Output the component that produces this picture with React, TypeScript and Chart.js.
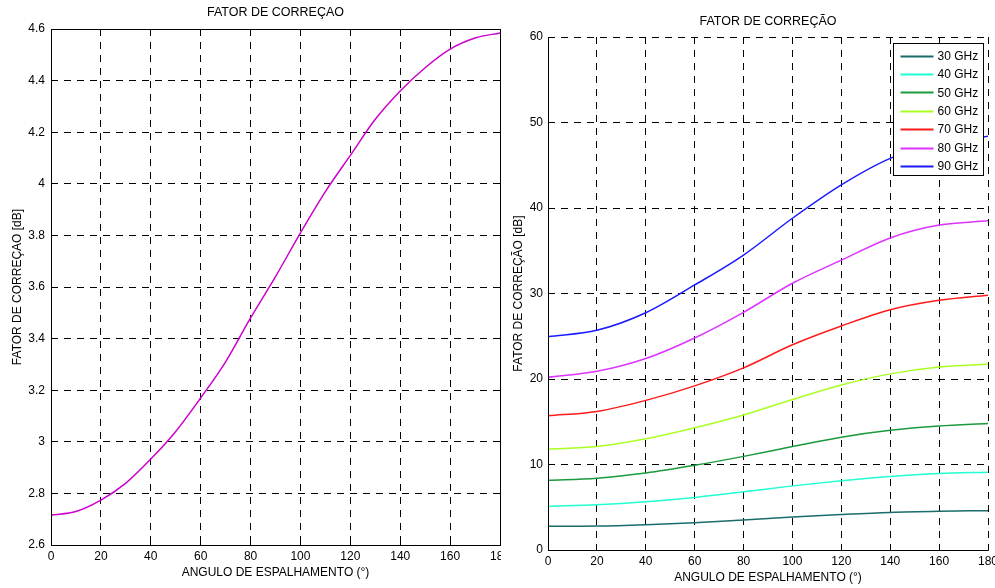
import React, { useEffect, useRef } from 'react';
import { Chart, registerables } from 'chart.js';

Chart.register(...registerables);

const FONT = '"Liberation Sans", Arial, Helvetica, sans-serif';

// ---- Left chart data ----
const leftTitle = 'FATOR DE CORREÇAO';
const leftYLabel = 'FATOR DE CORREÇAO [dB]';
const xLabel = 'ANGULO DE ESPALHAMENTO (°)';
const leftAngles = [0, 10, 20, 30, 40, 50, 60, 70, 80, 90, 100, 110, 120, 130, 140, 150, 160, 170, 180];
const leftFactor = [2.716, 2.73, 2.774, 2.84, 2.933, 3.04, 3.17, 3.31, 3.48, 3.64, 3.81, 3.97, 4.11, 4.25, 4.36, 4.45, 4.522, 4.565, 4.585];
const leftColor = '#cc00cc';

// ---- Right chart data ----
const rightTitle = 'FATOR DE CORREÇÃO';
const rightYLabel = 'FATOR DE CORREÇÃO [dB]';
const rightAngles = [0, 20, 40, 60, 80, 100, 120, 140, 160, 180];
const ghz30 = [2.77, 2.8, 2.96, 3.2, 3.5, 3.85, 4.15, 4.4, 4.53, 4.6];
const ghz40 = [5.1, 5.3, 5.65, 6.15, 6.8, 7.5, 8.1, 8.6, 8.95, 9.1];
const ghz50 = [8.15, 8.4, 9.0, 9.9, 10.95, 12.1, 13.2, 14.0, 14.5, 14.8];
const ghz60 = [11.8, 12.1, 13.0, 14.3, 15.8, 17.6, 19.3, 20.6, 21.4, 21.75];
const ghz70 = [15.7, 16.2, 17.5, 19.2, 21.3, 24.0, 26.2, 28.1, 29.2, 29.8];
const ghz80 = [20.2, 20.9, 22.4, 24.8, 27.8, 31.2, 33.9, 36.5, 38.0, 38.5];
const ghz90 = [24.95, 25.7, 27.75, 31.0, 34.5, 38.8, 42.7, 45.8, 47.6, 48.4];
const seriesValues = [ghz30, ghz40, ghz50, ghz60, ghz70, ghz80, ghz90];
const seriesLabels = ['30 GHz', '40 GHz', '50 GHz', '60 GHz', '70 GHz', '80 GHz', '90 GHz'];
const seriesColors = ['#1a6b6b', '#22ffd2', '#1a9a3c', '#aaff22', '#ff1a1a', '#dd33ff', '#1a1aff'];

const fmt = (v: number) => String(Math.round(v * 10) / 10);

function align(p: number) {
  return Math.round(p - 0.5) + 0.5;
}

const matlabPlugin = {
  id: 'matlabDecor',
  afterDraw(chart: any, _args: any, opts: any) {
    const { ctx, chartArea: a } = chart;
    const L = align(a.left), R = align(a.right), T = align(a.top), B = align(a.bottom);
    ctx.save();
    // title centred over the plot area
    ctx.fillStyle = '#000';
    ctx.font = '12.5px ' + FONT;
    ctx.textAlign = 'center';
    ctx.textBaseline = 'middle';
    ctx.fillText(opts.title, (a.left + a.right) / 2, opts.titleY);

    ctx.strokeStyle = '#000';
    ctx.lineWidth = 1;
    ctx.setLineDash([]);
    // box
    ctx.beginPath();
    ctx.moveTo(L, B); ctx.lineTo(L, T);
    ctx.moveTo(L, B); ctx.lineTo(R, B);
    if (opts.box) {
      ctx.moveTo(L, T); ctx.lineTo(R, T);
      ctx.moveTo(R, T); ctx.lineTo(R, B);
    }
    ctx.stroke();
    // inward ticks
    const tl = 5;
    const xs = chart.scales.x, ys = chart.scales.y;
    ctx.beginPath();
    xs.ticks.forEach((t: any) => {
      const px = align(xs.getPixelForValue(t.value));
      ctx.moveTo(px, B); ctx.lineTo(px, B - tl);
      if (opts.box) { ctx.moveTo(px, T); ctx.lineTo(px, T + tl); }
    });
    ys.ticks.forEach((t: any) => {
      const py = align(ys.getPixelForValue(t.value));
      ctx.moveTo(L, py); ctx.lineTo(L + tl, py);
      if (opts.box) { ctx.moveTo(R, py); ctx.lineTo(R - tl, py); }
    });
    ctx.stroke();
    // legend
    if (opts.legend) {
      const ds = chart.data.datasets;
      const w = 90, rowH = 18.4;
      const h = 132;
      const bx = align(a.right - 5 - w), by = align(a.top + 6);
      ctx.fillStyle = '#fff';
      ctx.fillRect(bx, by, w, h);
      ctx.strokeStyle = '#000';
      ctx.strokeRect(bx, by, w, h);
      ctx.font = '12px ' + FONT;
      ctx.textBaseline = 'middle';
      ctx.textAlign = 'left';
      ds.forEach((d: any, i: number) => {
        const y = by + 12 + i * rowH;
        ctx.strokeStyle = d.borderColor;
        ctx.lineWidth = 2;
        ctx.beginPath();
        ctx.moveTo(bx + 7, Math.round(y) + 0.5);
        ctx.lineTo(bx + 40, Math.round(y) + 0.5);
        ctx.stroke();
        ctx.fillStyle = '#000';
        ctx.fillText(d.label, bx + 44, y + 1);
      });
    }
    ctx.restore();
  },
};

const tickFont = { family: FONT, size: 12 };

function makeScales(o: any) {
  return {
    x: {
      type: 'linear',
      min: 0,
      max: 180,
      ticks: { stepSize: 20, font: tickFont, color: '#000', padding: 4, maxRotation: 0, autoSkip: false, callback: (v: number) => fmt(v) },
      grid: { color: '#000', lineWidth: 1, drawTicks: false },
      border: { display: false, dash: [7, 6] },
      title: { display: true, text: xLabel, font: tickFont, color: '#000', padding: { top: 0, bottom: o.xTitlePad } },
      afterFit: (s: any) => { s.height = o.xHeight; },
    },
    y: {
      type: 'linear',
      min: o.yMin,
      max: o.yMax,
      ticks: { stepSize: o.yStep, font: tickFont, color: '#000', padding: o.yTickPad, autoSkip: false, callback: (v: number) => fmt(v) },
      grid: { color: '#000', lineWidth: 1, drawTicks: false },
      border: { display: false, dash: [7, 6] },
      title: { display: true, text: o.yLabel, font: tickFont, color: '#000', padding: { top: o.yTitlePad, bottom: 0 } },
      afterFit: (s: any) => { s.width = o.yWidth; },
    },
  };
}

function leftConfig(): any {
  return {
    type: 'line',
    data: {
      datasets: [
        {
          label: leftTitle,
          data: leftAngles.map((x, i) => ({ x, y: leftFactor[i] })),
          borderColor: leftColor,
          borderWidth: 1.5,
          pointRadius: 0,
          cubicInterpolationMode: 'monotone',
          fill: false,
        },
      ],
    },
    options: {
      responsive: false,
      animation: false,
      layout: { padding: { left: 0, right: 30, top: 29, bottom: 0 } },
      plugins: {
        legend: { display: false },
        tooltip: { enabled: false },
        title: { display: false },
        matlabDecor: { box: true, legend: false, title: leftTitle, titleY: 13 },
      },
      scales: makeScales({ yMin: 2.6, yMax: 4.6, yStep: 0.2, yLabel: leftYLabel, yWidth: 51, yTickPad: 6, yTitlePad: 10, xHeight: 43, xTitlePad: 8 }),
    },
    plugins: [matlabPlugin],
  };
}

function rightConfig(): any {
  return {
    type: 'line',
    data: {
      datasets: seriesValues.map((vals, k) => ({
        label: seriesLabels[k],
        data: rightAngles.map((x, i) => ({ x, y: vals[i] })),
        borderColor: seriesColors[k],
        borderWidth: 1.5,
        pointRadius: 0,
        cubicInterpolationMode: 'monotone',
        fill: false,
      })),
    },
    options: {
      responsive: false,
      animation: false,
      layout: { padding: { left: 0, right: 33, top: 37, bottom: 0 } },
      plugins: {
        legend: { display: false },
        tooltip: { enabled: false },
        title: { display: false },
        matlabDecor: { box: false, legend: true, title: rightTitle, titleY: 22 },
      },
      scales: makeScales({ yMin: 0, yMax: 60, yStep: 10, yLabel: rightYLabel, yWidth: 47, yTickPad: 5, yTitlePad: 10, xHeight: 38, xTitlePad: 3 }),
    },
    plugins: [matlabPlugin],
  };
}

function ChartCanvas({ width, height, makeConfig }: { width: number; height: number; makeConfig: () => any }) {
  const ref = useRef<HTMLCanvasElement | null>(null);
  useEffect(() => {
    if (!ref.current) return;
    const chart = new Chart(ref.current, makeConfig());
    return () => chart.destroy();
  }, []);
  return <canvas ref={ref} width={width} height={height} style={{ display: 'block', width, height }} />;
}

export default function App() {
  return (
    <div style={{ position: 'fixed', left: 0, top: 0, width: 995, height: 588, background: '#fff', overflow: 'hidden' }}>
      <div style={{ position: 'absolute', left: 0, top: 0, width: 501, height: 588, overflow: 'hidden' }}>
        <ChartCanvas width={530} height={588} makeConfig={leftConfig} />
      </div>
      <div style={{ position: 'absolute', left: 501, top: 0, width: 494, height: 588, overflow: 'hidden' }}>
        <ChartCanvas width={520} height={588} makeConfig={rightConfig} />
      </div>
    </div>
  );
}
